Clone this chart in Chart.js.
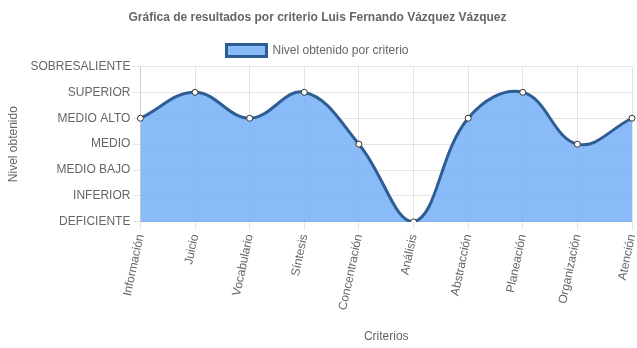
<!DOCTYPE html>
<html lang="es">
  <head>
    <meta charset="utf-8" />
    <title>Resultados por criterio</title>
    <style>
      * {
        margin: 0;
        padding: 0;
        box-sizing: border-box;
      }
      body {
        background: #ffffff;
      }
      .wrap {
        position: relative;
        width: 637px;
        height: 348px;
      }
    </style>
  </head>
  <body>
    <div class="wrap">
      <canvas id="grafica"></canvas>
    </div>
    <script src="https://cdn.jsdelivr.net/npm/chart.js@4/dist/chart.umd.min.js"></script>
    <script>
      // criterios evaluados y nivel alcanzado en cada uno (0 = DEFICIENTE ... 6 = SOBRESALIENTE)
      const criterios = [
        "Información",
        "Juicio",
        "Vocabulario",
        "Síntesis",
        "Concentración",
        "Análisis",
        "Abstracción",
        "Planeación",
        "Organización",
        "Atención",
      ];
      const niveles = [
        "DEFICIENTE",
        "INFERIOR",
        "MEDIO BAJO",
        "MEDIO",
        "MEDIO ALTO",
        "SUPERIOR",
        "SOBRESALIENTE",
      ];
      const resultados = [4, 5, 4, 5, 3, 0, 4, 5, 3, 4];

      Chart.defaults.font.family = "'Liberation Sans', Arial, sans-serif";
      Chart.defaults.font.size = 12;
      Chart.defaults.color = "#666";

      const ctx = document.getElementById("grafica");
      new Chart(ctx, {
        type: "line",
        data: {
          labels: criterios,
          datasets: [
            {
              label: "Nivel obtenido por criterio",
              data: resultados,
              fill: true,
              backgroundColor: "rgba(110, 172, 245, 0.82)",
              borderColor: "#2e5d94",
              borderWidth: 3,
              tension: 0.4,
              pointRadius: 3,
              pointBorderWidth: 1,
              pointBackgroundColor: "#ffffff",
              pointBorderColor: "#333",
            },
          ],
        },
        options: {
          responsive: true,
          maintainAspectRatio: false,
          animation: false,
          layout: { padding: { left: 2, right: 4 } },
          plugins: {
            title: {
              display: true,
              text: "Gráfica de resultados por criterio Luis Fernando Vázquez Vázquez",
              font: { weight: "bold", size: 12 },
              padding: { top: 10, bottom: 10 },
            },
            legend: {
              labels: {
                boxWidth: 40,
                boxHeight: 12,
                font: { size: 12 },
              },
            },
            tooltip: { enabled: false },
          },
          scales: {
            x: {
              title: { display: true, text: "Criterios", padding: { top: 15, bottom: 4 } },
              ticks: { minRotation: 78, maxRotation: 78 },
              grid: { color: "rgba(0,0,0,0.1)", tickLength: 8 },
              // la última etiqueta puede salirse un poco por la derecha
              afterFit: (scale) => {
                scale.paddingRight = 0;
              },
            },
            y: {
              min: 0,
              max: 6,
              title: { display: true, text: "Nivel obtenido", padding: { top: 4, bottom: 8 } },
              ticks: {
                stepSize: 1,
                padding: 2,
                callback: (v) => niveles[v],
              },
              grid: { color: "rgba(0,0,0,0.1)", tickLength: 8 },
            },
          },
        },
      });
    </script>
  </body>
</html>
